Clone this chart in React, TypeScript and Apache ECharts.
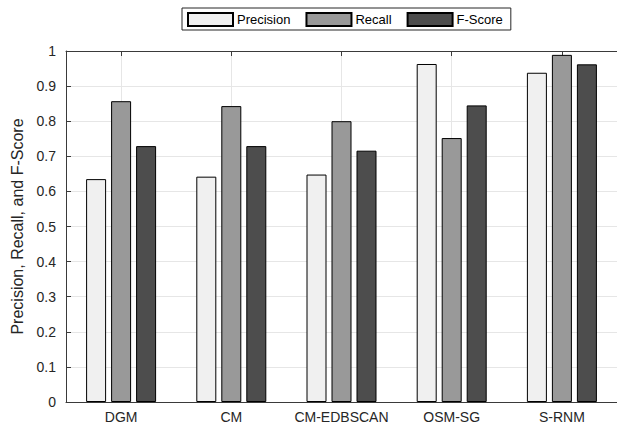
import React, { useEffect, useRef } from "react";
import * as echarts from "echarts";

const categories = ["DGM", "CM", "CM-EDBSCAN", "OSM-SG", "S-RNM"];
const precision = [0.635, 0.642, 0.648, 0.963, 0.938];
const recall = [0.857, 0.843, 0.8, 0.752, 0.989];
const fScore = [0.729, 0.729, 0.716, 0.845, 0.962];
const seriesNames = ["Precision", "Recall", "F-Score"];
const seriesColors = ["#f0f0f0", "#999999", "#4d4d4d"];
const yAxisName = "Precision, Recall, and F-Score";

const FONT = "Liberation Sans, Arial, Helvetica, sans-serif";
const AXIS_COLOR = "#3a3a3a";
const TEXT_COLOR = "#262626";
const GRID_COLOR = "#e6e6e6";

export default function App() {
  const ref = useRef<HTMLDivElement>(null);

  useEffect(() => {
    if (!ref.current) return;
    const chart = echarts.init(ref.current, null, { renderer: "svg" });
    // half-step axis for ticks / vertical gridlines at category centres
    const halfSteps: string[] = [""];
    categories.forEach((c) => {
      halfSteps.push(c);
      halfSteps.push("");
    });
    const isCenter = (idx: number) => idx % 2 === 1;
    const values = [precision, recall, fScore];

    chart.setOption({
      animation: false,
      textStyle: { fontFamily: FONT },
      legend: {
        data: seriesNames,
        left: 182,
        top: 8,
        orient: "horizontal",
        icon: "rect",
        itemWidth: 45,
        itemHeight: 13,
        itemGap: 15,
        padding: [4, 8, 3, 5],
        borderColor: "#262626",
        borderWidth: 1,
        backgroundColor: "#ffffff",
        textStyle: { fontSize: 13, color: "#000", fontFamily: FONT, padding: [0, 0, 0, -1] },
      },
      grid: { left: 66, top: 51, width: 560, height: 351, containLabel: false },
      xAxis: [
        {
          type: "category",
          data: categories,
          boundaryGap: true,
          position: "bottom",
          axisLine: { show: true, lineStyle: { color: AXIS_COLOR, width: 1 } },
          axisTick: { show: false },
          axisLabel: { color: TEXT_COLOR, fontSize: 14, margin: 8, interval: 0, fontFamily: FONT },
          splitLine: { show: false },
        },
        {
          type: "category",
          data: halfSteps,
          boundaryGap: false,
          position: "top",
          axisLine: { show: true, lineStyle: { color: AXIS_COLOR, width: 1 } },
          axisTick: {
            show: true,
            inside: true,
            length: 5,
            interval: (idx: number) => isCenter(idx),
            lineStyle: { color: AXIS_COLOR },
          },
          axisLabel: { show: false, interval: (idx: number) => isCenter(idx) },
          splitLine: {
            show: true,
            interval: (idx: number) => isCenter(idx),
            lineStyle: { color: GRID_COLOR, width: 1 },
          },
        },
      ],
      yAxis: {
        type: "value",
        min: 0,
        max: 1,
        interval: 0.1,
        name: yAxisName,
        nameLocation: "middle",
        nameGap: 33,
        nameTextStyle: { fontSize: 16, color: TEXT_COLOR, fontFamily: FONT },
        axisLine: { show: true, lineStyle: { color: AXIS_COLOR, width: 1 } },
        axisTick: { show: true, inside: true, length: 5, lineStyle: { color: AXIS_COLOR } },
        axisLabel: { color: TEXT_COLOR, fontSize: 14, margin: 10, fontFamily: FONT },
        splitLine: { show: true, lineStyle: { color: GRID_COLOR, width: 1 } },
      },
      series: seriesNames.map((name, i) => ({
        name,
        type: "bar",
        xAxisIndex: 0,
        data: values[i],
        barWidth: 20,
        barGap: "25%",
        itemStyle: { color: seriesColors[i], borderColor: "#000000", borderWidth: 1 },
      })),
    });
    return () => chart.dispose();
  }, []);

  return <div ref={ref} style={{ width: 617, height: 426, position: "absolute", left: 0, top: 0 }} />;
}
